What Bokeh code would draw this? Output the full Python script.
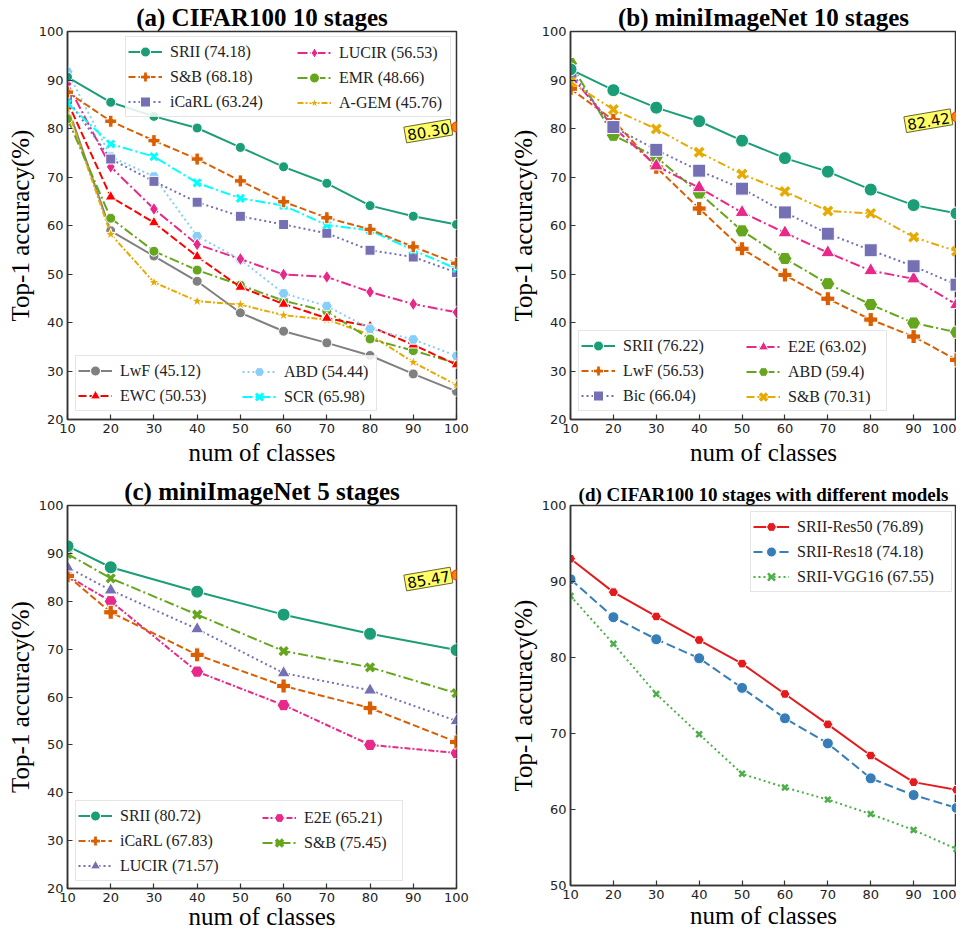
from bokeh.plotting import figure
from bokeh.models import Legend, LegendItem, Label, Range1d, FixedTicker
from bokeh.layouts import column, row
from bokeh.embed import file_html
from bokeh.resources import INLINE

classes10 = [10, 20, 30, 40, 50, 60, 70, 80, 90, 100]
classes5 = [10, 20, 40, 60, 80, 100]
x_ticks = [10, 20, 30, 40, 50, 60, 70, 80, 90, 100]
y_ticks_abc = [20, 30, 40, 50, 60, 70, 80, 90, 100]
y_ticks_d = [50, 60, 70, 80, 90, 100]

# (a) CIFAR100 10 stages
a_srii = [90.6, 85.4, 82.5, 80.1, 76.1, 72.1, 68.7, 64.1, 61.9, 60.2]
a_sb = [87.5, 81.5, 77.5, 73.7, 69.2, 64.9, 61.6, 59.2, 55.6, 52.2]
a_icarl = [86.0, 73.7, 69.1, 64.8, 61.9, 60.2, 58.4, 54.9, 53.5, 50.3]
a_lucir = [89.2, 72.1, 63.4, 56.1, 53.1, 49.9, 49.4, 46.3, 43.8, 42.1]
a_emr = [82.0, 61.5, 54.7, 50.8, 47.7, 44.5, 42.3, 36.6, 34.2, 31.6]
a_agem = [84.0, 58.2, 48.3, 44.4, 43.7, 41.5, 40.6, 37.5, 31.8, 27.1]
a_lwf = [84.5, 58.9, 53.7, 48.5, 42.0, 38.2, 35.8, 33.2, 29.4, 25.8]
a_ewc = [85.5, 65.9, 60.6, 53.6, 47.3, 43.8, 40.9, 39.2, 35.4, 31.3]
a_abd = [91.7, 74.2, 70.1, 57.8, 53.0, 46.0, 43.4, 38.7, 36.5, 33.1]
a_scr = [85.2, 76.8, 74.2, 68.8, 65.6, 64.1, 60.1, 59.0, 54.9, 51.1]
a_best = 80.30

# (b) miniImageNet 10 stages
b_srii = [92.2, 87.9, 84.3, 81.5, 77.5, 73.9, 71.1, 67.4, 64.2, 62.5]
b_lwf = [88.2, 81.7, 72.0, 63.5, 55.2, 49.8, 44.9, 40.6, 37.1, 32.3]
b_bic = [91.7, 80.3, 75.6, 71.3, 67.6, 62.7, 58.3, 54.9, 51.6, 47.8]
b_e2e = [91.0, 80.3, 72.3, 67.8, 62.7, 58.5, 54.4, 50.7, 49.0, 43.7]
b_abd = [93.4, 78.6, 74.1, 66.7, 58.9, 53.2, 48.0, 43.7, 39.9, 38.0]
b_sb = [89.6, 83.9, 79.9, 75.1, 70.6, 67.0, 63.0, 62.5, 57.6, 54.7]
b_best = 82.42

# (c) miniImageNet 5 stages
c_srii = [91.5, 87.1, 82.0, 77.2, 73.2, 69.8]
c_icarl = [85.3, 77.7, 68.8, 62.3, 57.7, 50.6]
c_lucir = [87.1, 82.3, 74.2, 65.0, 61.4, 55.0]
c_e2e = [85.3, 80.0, 65.3, 58.3, 50.0, 48.3]
c_sb = [89.9, 84.8, 77.2, 69.6, 66.2, 60.8]
c_best = 85.47

# (d) CIFAR100 10 stages with different models
d_res50 = [93.0, 88.6, 85.4, 82.3, 79.2, 75.2, 71.2, 67.1, 63.6, 62.6]
d_res18 = [90.3, 85.3, 82.4, 79.9, 76.0, 72.0, 68.7, 64.1, 61.9, 60.2]
d_vgg16 = [88.1, 81.8, 75.2, 69.9, 64.7, 62.9, 61.3, 59.4, 57.3, 54.8]

SERIF = "Liberation Serif"
SANS = "DejaVu Sans"
DASHED = "7 3"
DOTTED = "2 3"
DASHDOT = "10 3 2 3"

FW_L, FW_R = 389, 386
FH_TOP, FH_BOT, FH_D = 388, 383, 380


def make_fig(title, fw, fh, bl, br, bt, bb, yr, yticks, title_size, xstand):
    p = figure(frame_width=fw, frame_height=fh, x_range=Range1d(10, 100), y_range=Range1d(*yr),
               output_backend="svg", toolbar_location=None,
               min_border_left=bl, min_border_right=br, min_border_top=bt, min_border_bottom=bb)
    p.title.text = title
    p.title.align = "center"
    p.title.text_font = SERIF
    p.title.text_font_style = "bold"
    p.title.text_font_size = title_size
    p.title.text_color = "#000000"
    p.title.standoff = 2
    p.xgrid.visible = False
    p.ygrid.visible = False
    p.xaxis.ticker = FixedTicker(ticks=x_ticks)
    p.yaxis.ticker = FixedTicker(ticks=yticks)
    p.xaxis.axis_label = "num of classes"
    p.yaxis.axis_label = "Top-1 accuracy(%)"
    for ax in (p.xaxis[0], p.yaxis[0]):
        ax.major_tick_in = 5
        ax.major_tick_out = 0
        ax.minor_tick_in = 0
        ax.minor_tick_out = 0
        ax.axis_line_color = "#333333"
        ax.axis_line_width = 1.5
        ax.major_tick_line_color = "#333333"
        ax.major_tick_line_width = 1.2
        ax.major_label_text_font = SANS
        ax.major_label_text_font_size = "13px"
        ax.major_label_text_color = "#222222"
        ax.major_label_standoff = 4
        ax.axis_label_text_font = SERIF
        ax.axis_label_text_font_style = "normal"
        ax.axis_label_text_font_size = "25px"
        ax.axis_label_text_color = "#000000"
    p.xaxis.axis_label_standoff = xstand
    p.yaxis.axis_label_standoff = 2
    p.outline_line_color = "#333333"
    p.outline_line_width = 1.5
    p.outline_line_alpha = 1.0
    return p


def series(p, xs, ys, color, dash, marker, size, lw=2.0, mlw=1.0):
    ln = p.line(xs, ys, line_color=color, line_width=lw, line_dash=dash)
    if marker in ("x", "cross"):
        sc = p.scatter(xs, ys, marker=marker, size=size, line_color=color, line_width=mlw)
    else:
        sc = p.scatter(xs, ys, marker=marker, size=size, fill_color=color,
                       line_color="white", line_width=mlw)
    return [ln, sc]


ROW_H = 25
SPACING = -1
PAD = 2


def leg_height(n):
    return n * ROW_H + (n - 1) * SPACING + 2 * PAD


def add_legend(p, items, x, y, label_width, boxed=True, glyph_w=34):
    lg = Legend(items=items, location=(x, y), orientation="vertical",
                label_text_font=SERIF, label_text_font_size="16px", label_text_color="#222222",
                label_height=ROW_H, glyph_height=ROW_H, glyph_width=glyph_w, label_standoff=8,
                spacing=SPACING, padding=PAD, margin=0, label_width=label_width)
    if boxed:
        lg.border_line_color = "#cccccc"
        lg.border_line_width = 1
        lg.background_fill_color = "white"
        lg.background_fill_alpha = 0.85
    else:
        lg.border_line_alpha = 0
        lg.background_fill_alpha = 0
    p.add_layout(lg)
    return lg


def annotate(p, val):
    p.scatter([100], [val], marker="circle", size=10, fill_color="#ff7f0e", line_color="#ff2200", line_width=1)
    lab = Label(x=100, y=val, text=f"{val:.2f}", x_offset=-5, text_align="right",
                text_baseline="middle", angle=0.17, text_font=SANS, text_font_size="15px",
                text_color="#000000", background_fill_color="#ffff66", background_fill_alpha=1.0,
                border_line_color="#666633", border_line_width=1, padding=2)
    p.add_layout(lab)


# ---------------- (a) ----------------
pa = make_fig("(a) CIFAR100 10 stages", FW_L, FH_TOP, 67, 40, 26, 50, (20, 100), y_ticks_abc, "25px", 3)
r_lwf = series(pa, classes10, a_lwf, "#808080", "solid", "circle", 10)
r_agem = series(pa, classes10, a_agem, "#e6ab02", "6 2 2 2", "star", 12)
r_emr = series(pa, classes10, a_emr, "#66a61e", DASHDOT, "circle", 10)
r_ewc = series(pa, classes10, a_ewc, "#ff0000", "8 3", "triangle", 11)
r_abd = series(pa, classes10, a_abd, "#87cefa", DOTTED, "hex", 11)
r_lucir = series(pa, classes10, a_lucir, "#e7298a", DASHDOT, "diamond", 13)
r_icarl = series(pa, classes10, a_icarl, "#7570b3", DOTTED, "square", 10)
r_scr = series(pa, classes10, a_scr, "#00ffff", DASHDOT, "x", 10, mlw=3)
r_sb = series(pa, classes10, a_sb, "#d95f02", DASHED, "plus", 12)
r_srii = series(pa, classes10, a_srii, "#1b9e77", "solid", "circle", 10)
annotate(pa, a_best)

ya_top = FH_TOP - 9 - leg_height(3)
add_legend(pa, [LegendItem(label="SRII (74.18)", renderers=r_srii),
                LegendItem(label="S&B (68.18)", renderers=r_sb),
                LegendItem(label="iCaRL (63.24)", renderers=r_icarl)],
           58, ya_top, 278)
add_legend(pa, [LegendItem(label="LUCIR (56.53)", renderers=r_lucir),
                LegendItem(label="EMR (48.66)", renderers=r_emr),
                LegendItem(label="A-GEM (45.76)", renderers=r_agem)],
           228, ya_top, 60, boxed=False)
add_legend(pa, [LegendItem(label="LwF (45.12)", renderers=r_lwf),
                LegendItem(label="EWC (50.53)", renderers=r_ewc)],
           8, 8, 254)
add_legend(pa, [LegendItem(label="ABD (54.44)", renderers=r_abd),
                LegendItem(label="SCR (65.98)", renderers=r_scr)],
           173, 8, 60, boxed=False)

# ---------------- (b) ----------------
pb = make_fig("(b) miniImageNet 10 stages", FW_R, FH_TOP, 74, 0, 26, 50, (20, 100), y_ticks_abc, "25px", 3)
rb_lwf = series(pb, classes10, b_lwf, "#d95f02", DASHED, "plus", 14)
rb_abd = series(pb, classes10, b_abd, "#66a61e", DASHDOT, "hex", 14)
rb_e2e = series(pb, classes10, b_e2e, "#e7298a", DASHDOT, "triangle", 14)
rb_bic = series(pb, classes10, b_bic, "#7570b3", DOTTED, "square", 13)
rb_sb = series(pb, classes10, b_sb, "#e6ab02", "8 3 2 3 2 3", "x", 12, mlw=3.5)
rb_srii = series(pb, classes10, b_srii, "#1b9e77", "solid", "circle", 13)
annotate(pb, b_best)

add_legend(pb, [LegendItem(label="SRII (76.22)", renderers=rb_srii),
                LegendItem(label="LwF (56.53)", renderers=rb_lwf),
                LegendItem(label="Bic (66.04)", renderers=rb_bic)],
           8, 8, 261)
add_legend(pb, [LegendItem(label="E2E (63.02)", renderers=rb_e2e),
                LegendItem(label="ABD (59.4)", renderers=rb_abd),
                LegendItem(label="S&B (70.31)", renderers=rb_sb)],
           174, 8, 60, boxed=False)

# ---------------- (c) ----------------
pc = make_fig("(c) miniImageNet 5 stages", FW_L, FH_BOT, 67, 40, 36, 45, (20, 100), y_ticks_abc, "25px", -2)
rc_e2e = series(pc, classes5, c_e2e, "#e7298a", "6 2 2 2", "hex", 13)
rc_icarl = series(pc, classes5, c_icarl, "#d95f02", DASHED, "plus", 14)
rc_lucir = series(pc, classes5, c_lucir, "#7570b3", DOTTED, "triangle", 13)
rc_sb = series(pc, classes5, c_sb, "#66a61e", DASHDOT, "x", 11, mlw=3.5)
rc_srii = series(pc, classes5, c_srii, "#1b9e77", "solid", "circle", 13)
annotate(pc, c_best)

add_legend(pc, [LegendItem(label="SRII (80.72)", renderers=rc_srii),
                LegendItem(label="iCaRL (67.83)", renderers=rc_icarl),
                LegendItem(label="LUCIR (71.57)", renderers=rc_lucir)],
           8, 7, 280)
add_legend(pc, [LegendItem(label="E2E (65.21)", renderers=rc_e2e),
                LegendItem(label="S&B (75.45)", renderers=rc_sb)],
           193, 7 + leg_height(3) - leg_height(2), 60, boxed=False)

# ---------------- (d) ----------------
pd_ = make_fig("(d) CIFAR100 10 stages with different models", FW_R, FH_D, 74, 0, 36, 48,
               (50, 100), y_ticks_d, "19px", 0)
rd_vgg = series(pd_, classes10, d_vgg16, "#4daf4a", DOTTED, "x", 8, mlw=2.5)
rd_r18 = series(pd_, classes10, d_res18, "#377eb8", "9 4", "circle", 11)
rd_r50 = series(pd_, classes10, d_res50, "#e41a1c", "solid", "hex", 10)

add_legend(pd_, [LegendItem(label="SRII-Res50 (76.89)", renderers=rd_r50),
                 LegendItem(label="SRII-Res18 (74.18)", renderers=rd_r18),
                 LegendItem(label="SRII-VGG16 (67.55)", renderers=rd_vgg)],
           180, FH_D - 10 - leg_height(3), 152, glyph_w=36)

layout = column(row(pa, pb), row(pc, pd_))
open("out.html", "w").write(file_html(layout, INLINE))
